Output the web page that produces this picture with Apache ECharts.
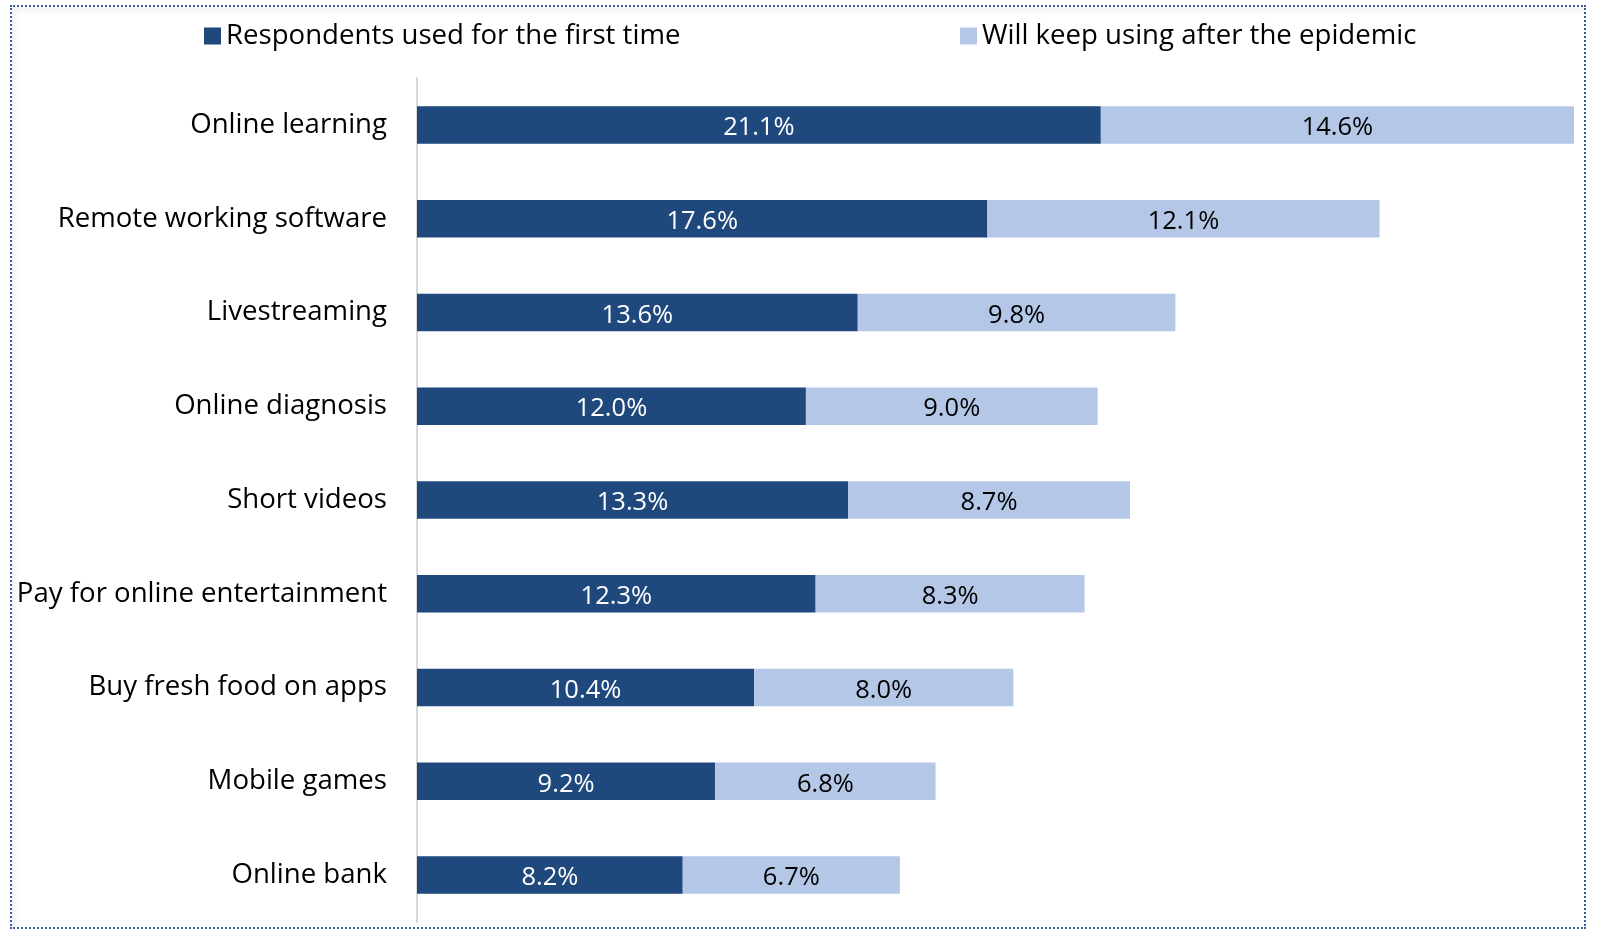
<!DOCTYPE html>
<html>
<head>
<meta charset="utf-8">
<script src="https://cdn.jsdelivr.net/npm/echarts@6/dist/echarts.min.js"></script>
<style>
  html, body { margin: 0; padding: 0; background: #ffffff; }
  #frame {
    position: absolute; left: 10px; top: 5px; width: 1572px; height: 920px;
    border: 2px dotted #3b5aa0;
    box-shadow: inset 6px 6px 8px -4px rgba(0,0,0,0.08);
  }
  #chart { position: absolute; left: 0; top: 0; width: 1597px; height: 930px; }
</style>
</head>
<body>
<div id="frame"></div>
<div id="chart"></div>
<script>
const categories = [
  'Online learning',
  'Remote working software',
  'Livestreaming',
  'Online diagnosis',
  'Short videos',
  'Pay for online entertainment',
  'Buy fresh food on apps',
  'Mobile games',
  'Online bank'
];
const firstTime = [21.1, 17.6, 13.6, 12.0, 13.3, 12.3, 10.4, 9.2, 8.2];
const keepUsing = [14.6, 12.1, 9.8, 9.0, 8.7, 8.3, 8.0, 6.8, 6.7];
const seriesNames = ['Respondents used for the first time', 'Will keep using after the epidemic'];

const FONT = '"Open Sans", "Noto Sans", sans-serif';
const chart = echarts.init(document.getElementById('chart'), null, { renderer: 'canvas' });

const pct = p => p.value.toFixed(1) + '%';

chart.setOption({
  animation: false,
  textStyle: { fontFamily: FONT },
  legend: [
    {
      data: [seriesNames[0]], left: 199, top: 17,
      itemWidth: 17, itemHeight: 17, icon: 'rect', itemGap: 8,
      textStyle: { fontSize: 27.6, color: '#000', fontFamily: FONT }
    },
    {
      data: [seriesNames[1]], left: 955, top: 17,
      itemWidth: 17, itemHeight: 17, icon: 'rect', itemGap: 8,
      textStyle: { fontSize: 27.6, color: '#000', fontFamily: FONT }
    }
  ],
  grid: { left: 417, right: 23, top: 78, bottom: 8, containLabel: false },
  xAxis: {
    type: 'value', min: 0, max: 'dataMax', show: false
  },
  yAxis: {
    type: 'category', data: categories, inverse: true,
    axisLine: { show: true, lineStyle: { color: '#d9d9d9', width: 2 } },
    axisTick: { show: false },
    axisLabel: { fontSize: 27.6, color: '#000', margin: 30, fontFamily: FONT, padding: [8, 0, 0, 0] }
  },
  series: [
    {
      name: seriesNames[0], type: 'bar', stack: 'total', data: firstTime,
      barCategoryGap: '60%',
      itemStyle: { color: '#1f497d' },
      label: { show: true, position: 'inside', offset: [0, 3], formatter: pct, color: '#fff', fontSize: 25.5, fontFamily: FONT }
    },
    {
      name: seriesNames[1], type: 'bar', stack: 'total', data: keepUsing,
      barCategoryGap: '60%',
      itemStyle: { color: '#b4c7e7' },
      label: { show: true, position: 'inside', offset: [0, 3], formatter: pct, color: '#000', fontSize: 25.5, fontFamily: FONT }
    }
  ]
});
</script>
</body>
</html>
